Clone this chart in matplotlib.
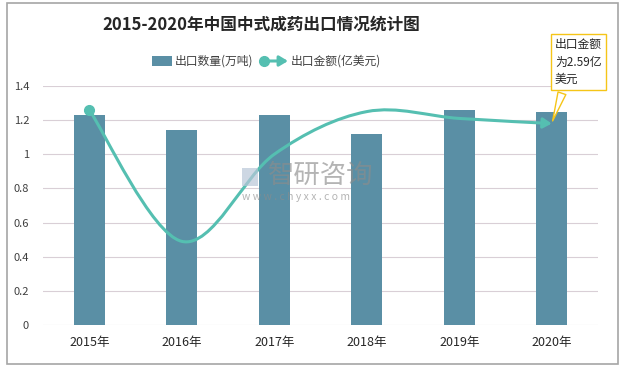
import numpy as np
import matplotlib.pyplot as plt
from matplotlib.path import Path
from matplotlib.patches import FancyArrowPatch, Rectangle
from matplotlib.lines import Line2D

plt.rcParams['font.family'] = ['Noto Sans CJK SC', 'DejaVu Sans']

years = ['2015年', '2016年', '2017年', '2018年', '2019年', '2020年']
qty = [1.23, 1.14, 1.23, 1.12, 1.26, 1.25]      # 出口数量(万吨)
amount = [1.26, 0.49, 1.0, 1.25, 1.21, 1.18]    # 出口金额(亿美元)
yticks = [0, 0.2, 0.4, 0.6, 0.8, 1, 1.2, 1.4]
ytick_labels = ['0', '0.2', '0.4', '0.6', '0.8', '1', '1.2', '1.4']

bar_color = '#5a8fa5'
line_color = '#55bfb1'

W, H = 621, 368
fig = plt.figure(figsize=(W / 100, H / 100), dpi=100)
fig.patches.append(Rectangle((7 / W, 4 / H), 611 / W, 361 / H, transform=fig.transFigure,
                             fill=False, ec='#a6a6a6', lw=1.2))
ax = fig.add_axes([43 / W, 43 / H, 555 / W, 239 / H])

x = np.arange(len(years))
ax.bar(x, qty, width=0.33, color=bar_color, zorder=2)

# smoothed line (Excel-like Bezier through the points)
pts = np.column_stack([x, amount])
verts = [tuple(pts[0])]
codes = [Path.MOVETO]
for i in range(len(pts) - 1):
    p0 = pts[max(i - 1, 0)]
    p1 = pts[i]
    p2 = pts[i + 1]
    p3 = pts[min(i + 2, len(pts) - 1)]
    c1 = p1 + (p2 - p0) / 6
    c2 = p2 - (p3 - p1) / 6
    verts += [tuple(c1), tuple(c2), tuple(p2)]
    codes += [Path.CURVE4] * 3
path = Path(verts, codes)
arr = FancyArrowPatch(path=path, arrowstyle='-|>,head_length=5,head_width=3',
                      color=line_color, lw=2.2, zorder=3, transform=ax.transData)
ax.add_patch(arr)
ax.plot([x[0]], [amount[0]], 'o', color=line_color, ms=7, zorder=4)

ax.set_xlim(-0.5, 5.5)
ax.set_ylim(0, 1.4)
ax.set_yticks(yticks)
ax.set_yticklabels(ytick_labels, fontsize=8, color='#404040')
ax.set_xticks(x)
ax.set_xticklabels(years, fontsize=9, color='#262626')
ax.tick_params(length=0, pad=8)
ax.tick_params(axis='y', pad=10)
ax.grid(axis='y', color='#d9cfd6', lw=0.8, zorder=0)
for s in ax.spines.values():
    s.set_visible(False)

fig.text(261 / W, 1 - 25 / H, '2015-2020年中国中式成药出口情况统计图', ha='center', va='center',
         fontsize=12, fontweight='bold', color='#262626')

# legend drawn by hand
ly = 1 - 61 / H
fig.patches.append(Rectangle((152 / W, ly - 5 / H), 20 / W, 10 / H, transform=fig.transFigure,
                             fc=bar_color, ec='none'))
fig.text(175 / W, ly, '出口数量(万吨)', fontsize=8.5, va='center', ha='left', color='#404040')
fig.lines.append(Line2D([264 / W], [ly], marker='o', ms=7, color=line_color,
                        transform=fig.transFigure))
fig.patches.append(FancyArrowPatch((264 / W, ly), (288 / W, ly), transform=fig.transFigure,
                                   arrowstyle='-|>,head_length=5,head_width=3',
                                   color=line_color, lw=2.2, shrinkA=0, shrinkB=0))
fig.text(291 / W, ly, '出口金额(亿美元)', fontsize=8.5, va='center', ha='left', color='#404040')

# watermark
fig.text(268 / W, 1 - 175 / H, '智研咨询', fontsize=19, color='#8c8c8c', alpha=0.65,
         va='center', ha='left', zorder=5)
fig.text(242 / W, 1 - 197 / H, 'w w w . c h y x x . c o m', fontsize=7.5, color='#8c8c8c',
         alpha=0.65, va='center', ha='left', zorder=5)
fig.patches.append(Rectangle((242 / W, 1 - 186 / H), 16 / W, 18 / H, transform=fig.transFigure,
                             fc='#b9c6d8', ec='none', alpha=0.7, zorder=5))

# callout
ax.annotate('出口金额\n为2.59亿\n美元', xy=(x[-1], amount[-1]), xycoords='data',
            xytext=(555 / W, 1 - 38 / H), textcoords='figure fraction',
            ha='left', va='top', fontsize=8.5, color='#262626', linespacing=1.45,
            bbox=dict(boxstyle='square,pad=0.35', fc='white', ec='#f5c518', lw=1),
            arrowprops=dict(arrowstyle='wedge,tail_width=0.7', fc='white', ec='#f5c518',
                            lw=1, relpos=(0.2, 0.0)),
            annotation_clip=False, zorder=6)

fig.savefig('out.png', dpi=100)
